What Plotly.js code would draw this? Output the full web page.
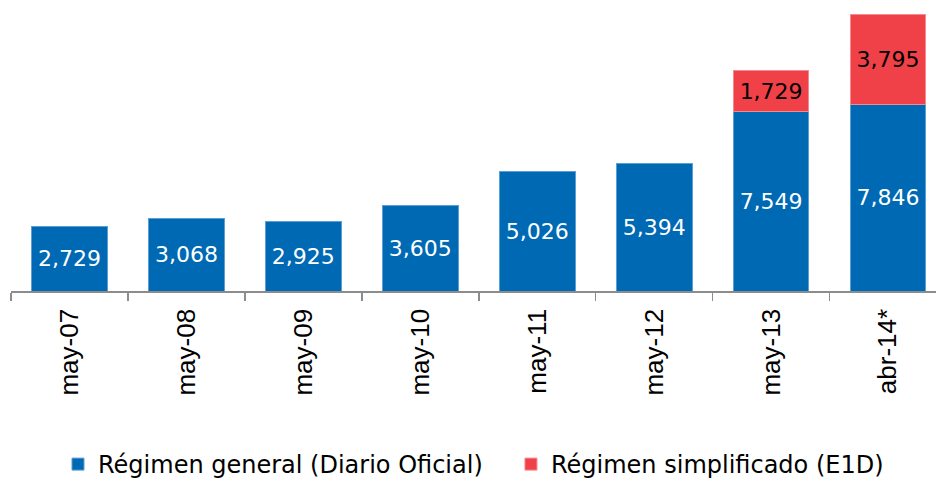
<!DOCTYPE html>
<html>
<head>
<meta charset="utf-8">
<script src="https://cdn.plot.ly/plotly-3.0.1.min.js"></script>
<style>html,body{margin:0;padding:0;background:#fff;}</style>
</head>
<body>
<div id="chart" style="width:936px;height:487px;"></div>
<script>
const categories = ["may-07","may-08","may-09","may-10","may-11","may-12","may-13","abr-14*"];
const generalValues = [2729, 3068, 2925, 3605, 5026, 5394, 7549, 7846];
const simplifiedCategories = ["may-13","abr-14*"];
const simplifiedValues = [1729, 3795];
const seriesNames = ["Régimen general (Diario Oficial)", "Régimen simplificado (E1D)"];

const FONT = "DejaVu Sans, Verdana, sans-serif";
const TICKFONT = "Liberation Sans, Arial, sans-serif";

const traces = [
  {
    type: "bar",
    name: seriesNames[0],
    x: categories,
    y: generalValues,
    legend: "legend",
    marker: {color: "#0069B4", line: {color: "#5C9FD6", width: 1}},
    texttemplate: "%{y:,}",
    textposition: "inside",
    insidetextanchor: "middle",
    constraintext: "none",
    textfont: {family: FONT, size: 22, color: "#ffffff"},
    hoverinfo: "skip"
  },
  {
    type: "bar",
    name: seriesNames[1],
    x: simplifiedCategories,
    y: simplifiedValues,
    legend: "legend2",
    marker: {color: "#EF4147", line: {color: "#F58A8E", width: 1}},
    texttemplate: "%{y:,}",
    textposition: "inside",
    insidetextanchor: "middle",
    constraintext: "none",
    textfont: {family: FONT, size: 22, color: "#000000"},
    hoverinfo: "skip"
  }
];

const legendBase = {
  orientation: "h",
  xanchor: "left",
  y: -0.62,
  yanchor: "middle",
  font: {family: FONT, size: 24, color: "#000000"}
};

const layout = {
  width: 936,
  height: 487,
  margin: {l: 11, r: 0, t: 10, b: 195},
  barmode: "stack",
  bargap: 0.353,
  paper_bgcolor: "#ffffff",
  plot_bgcolor: "#ffffff",
  font: {family: FONT, size: 22, color: "#000000"},
  showlegend: true,
  legend: Object.assign({}, legendBase, {x: 0.0508}),
  legend2: Object.assign({}, legendBase, {x: 0.5405}),
  xaxis: {
    type: "category",
    categoryorder: "array",
    categoryarray: categories,
    range: [-0.5, 7.41],
    showline: true,
    linecolor: "#8c8c8c",
    linewidth: 1.5,
    ticks: "outside",
    tickson: "boundaries",
    ticklen: 8,
    tickcolor: "#8c8c8c",
    tickwidth: 1.5,
    tickangle: -90,
    ticklabelstandoff: 6,
    tickfont: {family: TICKFONT, size: 26, color: "#000000"},
    showgrid: false,
    zeroline: false,
    fixedrange: true
  },
  yaxis: {
    visible: false,
    range: [0, 11849],
    showgrid: false,
    zeroline: false,
    fixedrange: true
  }
};

Plotly.newPlot("chart", traces, layout, {staticPlot: true, displayModeBar: false});
</script>
</body>
</html>
